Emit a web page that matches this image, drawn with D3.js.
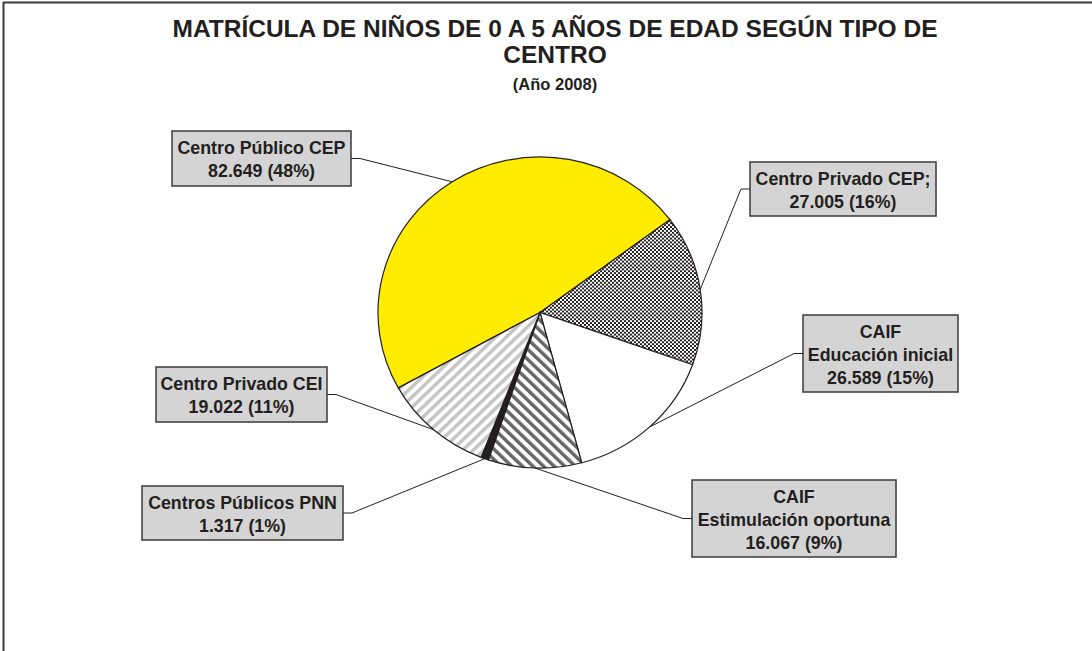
<!DOCTYPE html>
<html>
<head>
<meta charset="utf-8">
<script src="https://cdn.jsdelivr.net/npm/d3@7"></script>
<style>
  body { margin: 0; background: #fff; }
  text { font-family: "Liberation Sans", Arial, sans-serif; font-weight: bold; fill: #231f20; }
</style>
</head>
<body>
<div class="svg-container"></div>
<script>
/*** Data ***/

const labelNames = [
    ["Centro Público CEP"],
    ["Centro Privado CEP;"],
    ["CAIF", "Educación inicial"],
    ["CAIF", "Estimulación oportuna"],
    ["Centros Públicos PNN"],
    ["Centro Privado CEI"]
]
const values = [82649, 27005, 26589, 16067, 1317, 19022]

const titleLines = ["MATRÍCULA DE NIÑOS DE 0 A 5 AÑOS DE EDAD SEGÚN TIPO DE", "CENTRO"]
const subtitle = "(Año 2008)"

/*** Layout ***/

const svgWidth = 1092
const svgHeight = 651
const cx = 540, cy = 312.5
const radius = 162
const squash = 0.96   // the pie is a bit wider than tall

const sliceFills = ["#ffec00", "url(#checks)", "#ffffff", "url(#darkStripes)", "#231f20", "url(#lightStripes)"]

// label boxes: x, y, w, h, side the leader leaves from
const boxes = [
    {x: 172, y: 131, w: 179, h: 55, side: "right"},
    {x: 750, y: 162, w: 186, h: 54, side: "left"},
    {x: 803, y: 315, w: 155, h: 77, side: "left"},
    {x: 692, y: 480, w: 204, h: 77, side: "left"},
    {x: 142, y: 486, w: 201, h: 54, side: "right"},
    {x: 156, y: 367, w: 171, h: 55, side: "right"}
]

let svg = d3.select(".svg-container")
    .append("svg")
    .attr("width", svgWidth)
    .attr("height", svgHeight)
    .style("display", "block")

/* patterns */

let defs = svg.append("defs")

let checks = defs.append("pattern")
    .attr("id", "checks")
    .attr("patternUnits", "userSpaceOnUse")
    .attr("width", 4).attr("height", 4)
checks.append("rect").attr("width", 4).attr("height", 4).attr("fill", "#fff")
checks.append("rect").attr("width", 2).attr("height", 2).attr("fill", "#231f20")
checks.append("rect").attr("x", 2).attr("y", 2).attr("width", 2).attr("height", 2).attr("fill", "#231f20")

function stripes(id, color, angle, period, w) {
    let p = defs.append("pattern")
        .attr("id", id)
        .attr("patternUnits", "userSpaceOnUse")
        .attr("width", period).attr("height", period)
        .attr("patternTransform", `rotate(${angle})`)
    p.append("rect").attr("width", period).attr("height", period).attr("fill", "#fff")
    p.append("rect").attr("width", w).attr("height", period).attr("fill", color)
}
stripes("darkStripes", "#666666", -45, 7.5, 3.5)
stripes("lightStripes", "#c4c4c4", 45, 7.5, 3.5)

/* frame */

svg.append("line")
    .attr("x1", 3).attr("x2", svgWidth).attr("y1", 2.5).attr("y2", 2.5)
    .attr("stroke", "#3a3a3a").attr("stroke-width", 2)
svg.append("line")
    .attr("x1", 3.5).attr("x2", 3.5).attr("y1", 2).attr("y2", svgHeight)
    .attr("stroke", "#3a3a3a").attr("stroke-width", 2)

/* title */

svg.append("text")
    .attr("x", 555).attr("y", 37)
    .style("text-anchor", "middle")
    .style("font-size", "24.5px")
    .text(titleLines[0])
svg.append("text")
    .attr("x", 555).attr("y", 63)
    .style("text-anchor", "middle")
    .style("font-size", "24.5px")
    .text(titleLines[1])
svg.append("text")
    .attr("x", 555).attr("y", 90)
    .style("text-anchor", "middle")
    .style("font-size", "16.5px")
    .text(subtitle)

/* pie */

const startAngle = 241 * Math.PI / 180

let pie = d3.pie()
    .sort(null)
    .startAngle(startAngle)
    .endAngle(startAngle + 2 * Math.PI)

let arcs = pie(values)

let arc = d3.arc()
    .innerRadius(0)
    .outerRadius(radius)

let pieG = svg.append("g")
    .attr("transform", `translate(${cx}, ${cy}) scale(1, ${squash})`)

pieG.selectAll("path")
    .data(arcs)
    .enter()
    .append("path")
    .attr("d", arc)
    .attr("fill", (d, i) => sliceFills[i])
    .attr("stroke", "#231f20")
    .attr("stroke-width", 1.2)
    .attr("vector-effect", "non-scaling-stroke")

/* labels */

const total = d3.sum(values)
const locale = d3.formatLocale({decimal: ",", thousands: ".", grouping: [3], currency: ["", ""]})
const fmtNum = locale.format(",d")

arcs.forEach((d, i) => {
    let b = boxes[i]
    let mid = (d.startAngle + d.endAngle) / 2
    let px = cx + radius * Math.sin(mid)
    let py = cy - radius * squash * Math.cos(mid)
    let ax = b.side === "right" ? b.x + b.w : b.x
    let ay = b.y + b.h / 2
    let ex = b.side === "right" ? ax + 9 : ax - 9

    svg.append("polyline")
        .attr("points", `${ax},${ay} ${ex},${ay} ${px},${py}`)
        .attr("fill", "none")
        .attr("stroke", "#231f20")
        .attr("stroke-width", 1)

    svg.append("rect")
        .attr("x", b.x).attr("y", b.y)
        .attr("width", b.w).attr("height", b.h)
        .attr("fill", "#d4d4d4")
        .attr("stroke", "#3a3a3a")
        .attr("stroke-width", 1.5)

    let pct = Math.round(d.value / total * 100)
    let lines = labelNames[i].concat([`${fmtNum(d.value)} (${pct}%)`])
    let t = svg.append("text")
        .style("text-anchor", "middle")
        .style("font-size", "17.8px")
    lines.forEach((ln, j) => {
        t.append("tspan")
            .attr("x", b.x + b.w / 2)
            .attr("y", b.y + 22.5 + j * 23)
            .text(ln)
    })
})
</script>
</body>
</html>
